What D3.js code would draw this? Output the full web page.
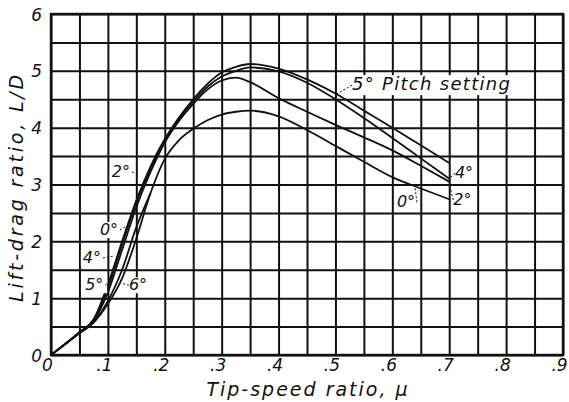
<!DOCTYPE html>
<html>
<head>
<meta charset="utf-8">
<script src="https://cdn.jsdelivr.net/npm/d3@7"></script>
<style>
  body { margin: 0; background: #fff; }
  text { font-family: "DejaVu Sans", sans-serif; font-style: italic; fill: #111; }
</style>
</head>
<body>
<script>
// tip-speed ratio sample points
var mu = [0, .05, .075, .1, .125, .15, .175, .2, .225, .25, .275, .3, .325, .35, .4, .45, .5, .55, .6, .65, .7];
// lift-drag ratio for each pitch setting
var pitch0 = [0, .38, .57, .9, 1.35, 2.05, 2.85, 3.45, 3.78, 3.98, 4.13, 4.23, 4.28, 4.3, 4.2, 3.96, 3.68, 3.4, 3.13, 2.93, 2.74];
var pitch2 = [0, .39, .6, 1.1, 1.85, 2.6, 3.22, 3.74, 4.12, 4.42, 4.67, 4.83, 4.88, 4.8, 4.52, 4.28, 4.05, 3.83, 3.6, 3.33, 3.05];
var pitch4 = [0, .4, .62, 1.18, 1.95, 2.68, 3.27, 3.77, 4.15, 4.46, 4.72, 4.9, 5.0, 5.06, 4.99, 4.79, 4.5, 4.17, 3.82, 3.46, 3.1];
var pitch5 = [0, .4, .63, 1.24, 2.0, 2.72, 3.32, 3.8, 4.18, 4.5, 4.77, 4.97, 5.07, 5.12, 5.04, 4.85, 4.6, 4.3, 4.0, 3.69, 3.38];
// 6 deg only measured at low speed
var mu6 = [.05, .075, .1, .125, .15, .175];
var pitch6 = [.39, .58, .95, 1.5, 2.25, 2.85];

var xTicks = [0, .1, .2, .3, .4, .5, .6, .7, .8, .9];
var xTickLabels = ["0", ".1", ".2", ".3", ".4", ".5", ".6", ".7", ".8", ".9"];
var yTicks = [0, 1, 2, 3, 4, 5, 6];

var margin = {top: 14, right: 6, bottom: 47, left: 51},
    width = 569 - margin.left - margin.right,
    height = 402 - margin.top - margin.bottom;

var svg = d3.select("body").append("svg")
    .attr("width", 569)
    .attr("height", 402);
var g = svg.append("g")
    .attr("transform", "translate(" + margin.left + "," + margin.top + ")");

var x = d3.scaleLinear().domain([0, 0.9]).range([0, width]);
var y = d3.scaleLinear().domain([0, 6]).range([height, 0]);

// grid lines (every .05 and every .5)
var gridX = d3.axisBottom(x).tickValues(d3.range(0, 0.901, 0.05)).tickSize(-height).tickFormat("");
var gridY = d3.axisLeft(y).tickValues(d3.range(0, 6.01, 0.5)).tickSize(-width).tickFormat("");
g.append("g").attr("class", "grid")
    .attr("transform", "translate(0," + height + ")")
    .call(gridX);
g.append("g").attr("class", "grid").call(gridY);
g.selectAll(".grid .domain").remove();
g.selectAll(".grid line").attr("stroke", "#111").attr("stroke-width", 2);

g.append("rect")
    .attr("width", width).attr("height", height)
    .attr("fill", "none").attr("stroke", "#111").attr("stroke-width", 2.4);

// tick labels
var xAxis = d3.axisBottom(x).tickValues(xTicks).tickSize(0).tickPadding(4)
    .tickFormat(function(d, i) { return xTickLabels[i]; });
var gx = g.append("g").attr("transform", "translate(0," + height + ")").call(xAxis);
gx.select(".domain").remove();
gx.selectAll("text").attr("font-size", 17).attr("dx", -4)
    .style("font-family", "'DejaVu Sans', sans-serif").style("font-style", "italic");

var yAxis = d3.axisLeft(y).tickValues(yTicks).tickSize(0).tickPadding(9)
    .tickFormat(d3.format("d"));
var gy = g.append("g").call(yAxis);
gy.select(".domain").remove();
gy.selectAll("text").attr("font-size", 17).attr("dy", "0.36em")
    .style("font-family", "'DejaVu Sans', sans-serif").style("font-style", "italic");

// axis titles
svg.append("text")
    .attr("x", 308).attr("y", 396)
    .attr("text-anchor", "middle").attr("font-size", 19)
    .attr("letter-spacing", 2)
    .text("Tip-speed ratio, μ");
svg.append("text")
    .attr("transform", "translate(23,187) rotate(-90)")
    .attr("text-anchor", "middle").attr("font-size", 19)
    .attr("letter-spacing", 2.8)
    .text("Lift-drag ratio, L/D");

// curves
var line = d3.line()
    .x(function(d) { return x(d[0]); })
    .y(function(d) { return y(d[1]); })
    .curve(d3.curveMonotoneX);

var series = [pitch0, pitch2, pitch4, pitch5];
series.forEach(function(s) {
    g.append("path")
        .datum(d3.zip(mu, s))
        .attr("d", line)
        .attr("fill", "none").attr("stroke", "#111").attr("stroke-width", 1.8);
});
g.append("path")
    .datum(d3.zip(mu6, pitch6))
    .attr("d", line)
    .attr("fill", "none").attr("stroke", "#111").attr("stroke-width", 1.8);

// curve labels: [text, label x, label y (data), leader to x, leader to y]
var labels = [
    ["2°", .107, 3.13, .155, 3.2],
    ["0°", .086, 2.11, .138, 2.3],
    ["4°", .056, 1.62, .11, 1.74],
    ["5°", .06, 1.14, .1, 1.26],
    ["6°", .137, 1.14, .125, 1.26],
    ["4°", .71, 3.11, .7, 3.1],
    ["2°", .707, 2.64, .7, 3.02],
    ["0°", .608, 2.6, .64, 2.95]
];
labels.forEach(function(l) {
    var lx = x(l[1]), ly = y(l[2]);
    g.append("rect")
        .attr("x", lx - 2).attr("y", ly - 13).attr("width", 24).attr("height", 16)
        .attr("fill", "#fff");
    g.append("line")
        .attr("x1", l[3] > l[1] ? lx + 20 : lx).attr("y1", ly - 5)
        .attr("x2", x(l[3])).attr("y2", y(l[4]))
        .attr("stroke", "#111").attr("stroke-width", 1).attr("stroke-dasharray", "2,2");
    g.append("text")
        .attr("x", lx).attr("y", ly)
        .attr("font-size", 16)
        .text(l[0]);
});

// pitch setting note
var nx = x(.529), ny = y(4.66);
g.append("rect").attr("x", nx - 2).attr("y", ny - 15).attr("width", 168).attr("height", 20).attr("fill", "#fff");
g.append("line")
    .attr("x1", nx).attr("y1", ny - 5).attr("x2", x(.5)).attr("y2", y(4.58))
    .attr("stroke", "#111").attr("stroke-width", 1).attr("stroke-dasharray", "2,2");
g.append("text").attr("x", nx).attr("y", ny).attr("font-size", 18)
    .attr("letter-spacing", 1.3)
    .text("5° Pitch setting");
</script>
</body>
</html>
